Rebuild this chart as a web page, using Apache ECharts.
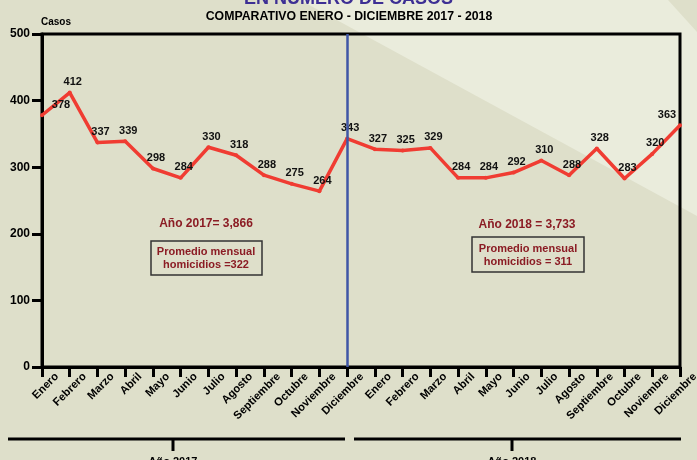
<!DOCTYPE html>
<html>
<head>
<meta charset="utf-8">
<script src="https://cdn.jsdelivr.net/npm/echarts@6/dist/echarts.min.js"></script>
<style>
  html, body { margin: 0; padding: 0; }
  #chart { width: 697px; height: 460px; }
</style>
</head>
<body>
<div id="chart"></div>
<script>
// data
const months = ['Enero', 'Febrero', 'Marzo', 'Abril', 'Mayo', 'Junio', 'Julio',
  'Agosto', 'Septiembre', 'Octubre', 'Noviembre', 'Diciembre']
const casos2017 = [378, 412, 337, 339, 298, 284, 330, 318, 288, 275, 264, 343]
const casos2018 = [327, 325, 329, 284, 284, 292, 310, 288, 328, 283, 320, 363]
const yTicks = [0, 100, 200, 300, 400, 500]

const fontFamily = '"Liberation Sans", Arial, sans-serif'
const darkRed = '#8b1c24'

const categories = months.concat(months)
const values = casos2017.concat(casos2018)

// a few labels are nudged sideways in the original
const labelOffsets = { 0: [19, 0], 23: [-13, 0] }
const seriesData = values.map((v, i) => {
  const item = { value: v }
  item.label = { offset: labelOffsets[i] || [3, 0] }
  return item
})

const chart = echarts.init(document.getElementById('chart'))

const option = {
  animation: false,
  backgroundColor: '#dedfca',
  textStyle: { fontFamily: fontFamily },
  grid: {
    left: 42, right: 17, top: 34, bottom: 93,
    outerBoundsMode: 'none',
    containLabel: false,
    show: true, borderColor: '#000', borderWidth: 3,
    backgroundColor: 'transparent'
  },
  xAxis: {
    type: 'category',
    boundaryGap: false,
    data: categories,
    axisLine: { lineStyle: { color: '#000', width: 3 } },
    axisTick: { show: true, interval: 0, length: 10, lineStyle: { color: '#000', width: 3 } },
    axisLabel: {
      interval: 0, rotate: 45, margin: -7,
      // tall line box pushes the rotated text down-right, like the original
      verticalAlign: 'top', lineHeight: 42,
      color: '#000', fontWeight: 'bold', fontSize: 11.2, fontFamily: fontFamily
    },
    splitLine: { show: false }
  },
  yAxis: {
    type: 'value',
    min: yTicks[0], max: yTicks[yTicks.length - 1], interval: 100,
    name: 'Casos',
    nameLocation: 'end',
    nameGap: 7,
    nameTextStyle: { color: '#000', fontWeight: 'bold', fontSize: 10, align: 'left', padding: [0, 0, 0, -1] },
    axisLine: { show: true, lineStyle: { color: '#000', width: 3 } },
    axisTick: { show: true, length: 10, lineStyle: { color: '#000', width: 3 } },
    axisLabel: { color: '#000', fontWeight: 'bold', fontSize: 12, margin: 12 },
    splitLine: { show: false }
  },
  series: [
    {
      name: 'Casos',
      type: 'line',
      data: seriesData,
      symbol: 'circle',
      symbolSize: 4,
      lineStyle: { color: '#f03c32', width: 3.5 },
      itemStyle: { color: '#f03c32' },
      label: {
        show: true, position: 'top', distance: 3,
        color: '#111', fontWeight: 'bold', fontSize: 11, fontFamily: fontFamily
      },
      markLine: {
        silent: true,
        symbol: ['none', 'none'],
        label: { show: false },
        lineStyle: { color: '#3f56a6', width: 2.5, type: 'solid' },
        data: [{ xAxis: 11 }]
      },
      z: 3
    }
  ],
  graphic: [
    // lighter diagonal band of the background
    { type: 'polygon', z: -10, silent: true,
      shape: { points: [[300, 0], [697, 0], [697, 216]] },
      style: { fill: '#eaecdc' } },
    { type: 'polygon', z: -9, silent: true,
      shape: { points: [[668, 0], [697, 0], [697, 32]] },
      style: { fill: '#dedfca' } },
    // titles
    { type: 'text', left: 'center', top: -10,
      style: { text: 'EN NÚMERO DE CASOS', fill: '#3d2f94', font: 'bold 18px ' + fontFamily } },
    { type: 'text', x: 349, y: 17,
      style: { text: 'COMPARATIVO ENERO - DICIEMBRE 2017 - 2018', fill: '#000',
        font: 'bold 12.3px ' + fontFamily, align: 'center', verticalAlign: 'middle' } },
    // annotations
    { type: 'text', x: 206, y: 224,
      style: { text: 'Año 2017= 3,866', fill: darkRed, font: 'bold 12px ' + fontFamily,
        align: 'center', verticalAlign: 'middle' } },
    { type: 'rect', shape: { x: 151, y: 241, width: 111, height: 34 },
      style: { fill: 'transparent', stroke: '#333', lineWidth: 1.5 } },
    { type: 'text', x: 206, y: 258,
      style: { text: 'Promedio mensual\nhomicidios =322', fill: darkRed, font: 'bold 11px ' + fontFamily,
        align: 'center', verticalAlign: 'middle', lineHeight: 13 } },
    { type: 'text', x: 527, y: 225,
      style: { text: 'Año 2018 = 3,733', fill: darkRed, font: 'bold 12px ' + fontFamily,
        align: 'center', verticalAlign: 'middle' } },
    { type: 'rect', shape: { x: 472, y: 237, width: 112, height: 35 },
      style: { fill: 'transparent', stroke: '#333', lineWidth: 1.5 } },
    { type: 'text', x: 528, y: 255,
      style: { text: 'Promedio mensual\nhomicidios = 311', fill: darkRed, font: 'bold 11px ' + fontFamily,
        align: 'center', verticalAlign: 'middle', lineHeight: 13 } },
    // year brackets below the axis
    { type: 'polyline', shape: { points: [[8, 439], [345, 439]] }, style: { stroke: '#000', lineWidth: 3 } },
    { type: 'line', shape: { x1: 173, y1: 439, x2: 173, y2: 451 }, style: { stroke: '#000', lineWidth: 3 } },
    { type: 'text', x: 173, y: 456,
      style: { text: 'Año 2017', fill: '#000', font: 'bold 11px ' + fontFamily, align: 'center', verticalAlign: 'top' } },
    { type: 'polyline', shape: { points: [[354, 439], [681, 439]] }, style: { stroke: '#000', lineWidth: 3 } },
    { type: 'line', shape: { x1: 512, y1: 439, x2: 512, y2: 451 }, style: { stroke: '#000', lineWidth: 3 } },
    { type: 'text', x: 512, y: 456,
      style: { text: 'Año 2018', fill: '#000', font: 'bold 11px ' + fontFamily, align: 'center', verticalAlign: 'top' } }
  ]
}

chart.setOption(option)
</script>
</body>
</html>
